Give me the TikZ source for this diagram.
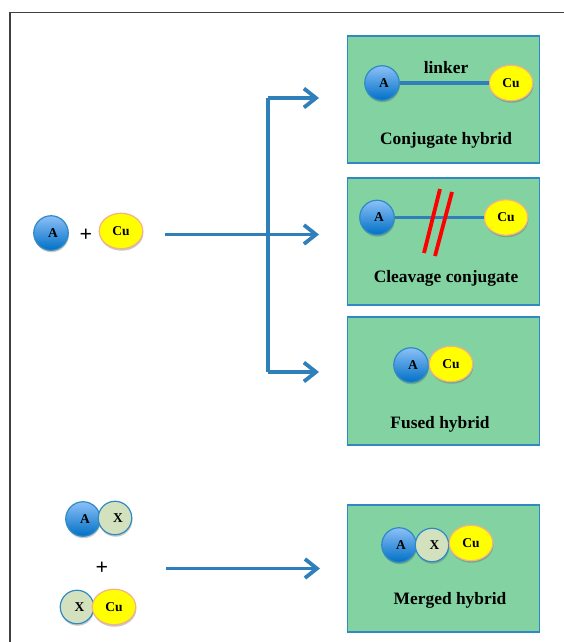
\documentclass[tikz,border=0pt]{standalone}
\usepackage{fontspec}
\setmainfont{Liberation Serif}
\usetikzlibrary{shapes.geometric,arrows.meta,shadows}
\definecolor{boxgreen}{HTML}{82D3A1}
\definecolor{flowblue}{HTML}{2E7FBA}
\definecolor{edgeblue}{HTML}{2F8AC4}
\definecolor{ballX}{HTML}{D3E1BE}
\definecolor{ballTop}{HTML}{8CC0F8}
\definecolor{ballBot}{HTML}{0070C6}
\definecolor{cuYellow}{HTML}{FFFF00}
\definecolor{cuEdge}{HTML}{F4B183}
\tikzset{
  panel/.style={draw=edgeblue,line width=1.6pt,fill=boxgreen,minimum width=192pt,inner sep=0pt},
  ballshadow/.style={drop shadow={shadow xshift=0.6pt,shadow yshift=-2pt,opacity=0.3,fill=black!70}},
  ballA/.style={circle,minimum size=34.5pt,inner sep=0pt,draw=edgeblue,line width=1.2pt,
    top color=ballTop,bottom color=ballBot,ballshadow,font=\fontsize{13.5}{13.5}\selectfont\bfseries},
  ballXn/.style={circle,minimum size=33.5pt,inner sep=0pt,draw=edgeblue,line width=1.2pt,
    fill=ballX,ballshadow,font=\fontsize{13.5}{13.5}\selectfont\bfseries},
  ballCu/.style={ellipse,minimum width=43.5pt,minimum height=35.5pt,inner sep=0pt,draw=cuEdge,line width=1.2pt,
    fill=cuYellow,ballshadow,font=\fontsize{13.5}{13.5}\selectfont\bfseries},
  caption/.style={font=\fontsize{17.4}{17.4}\selectfont\bfseries,inner sep=0pt},
  plus/.style={font=\fontsize{22}{22}\selectfont\bfseries,inner sep=0pt},
  flow/.style={draw=flowblue,line width=3.8pt,line join=round},
  flowarrow/.style={flow,-{Straight Barb[length=12pt,width=19pt,line width=3.8pt]}},
  linkerline/.style={draw=flowblue,line width=3.8pt},
  cutmark/.style={draw=red,line width=3.8pt},
}
\begin{document}
\begin{tikzpicture}[x=1pt,y=-1pt]
\useasboundingbox (0,0) rectangle (564,642);
\fill[white] (0,0) rectangle (564,642);
\draw[line width=1.8pt,draw=black!75] (10,642) -- (10,12.5) -- (564,12.5);

% panels
\node[panel,minimum height=127pt] (p1) at (443.5,99.5) {};
\node[panel,minimum height=127pt] (p2) at (443.5,241.5) {};
\node[panel,minimum height=128pt] (p3) at (443.5,381) {};
\node[panel,minimum height=127pt] (p4) at (443.5,568.5) {};

% conjugate hybrid
\node[ballA] (a1) at (382,83) {\hspace*{4pt}A};
\node[ballCu] (c1) at (511,83) {Cu};
\draw[linkerline] (a1) -- (c1);
\node[caption] (linker) at (446,68) {linker};
\node[caption] (t1) at (446,140) {Conjugate hybrid};

% cleavage conjugate
\node[ballA] (a2) at (377,217.5) {\hspace*{4pt}A};
\node[ballCu] (c2) at (506,217.5) {Cu};
\draw[linkerline] (a2) -- (c2);
\coordinate (r1a) at (440,189);
\coordinate (r1b) at (424,253);
\coordinate (r2a) at (452,192);
\coordinate (r2b) at (435,256);
\draw[cutmark] (r1a) -- (r1b);
\draw[cutmark] (r2a) -- (r2b);
\node[caption] (t2) at (446,278) {Cleavage conjugate};

% fused hybrid
\node[ballA] (a3) at (411,365) {\hspace*{4pt}A};
\node[ballCu] (c3) at (451,364) {Cu};
\node[caption] (t3) at (440,424) {Fused hybrid};

% merged hybrid
\node[ballA] (a4) at (399,545) {\hspace*{4pt}A};
\node[ballXn] (x4) at (432,545) {\hspace*{5pt}X};
\node[ballCu] (c4) at (471,543) {Cu};
\node[caption] (t4) at (450,600) {Merged hybrid};

% left reactants
\node[ballA] (a5) at (51,233) {\hspace*{4pt}A};
\node[plus] (p5) at (86,235) {+};
\node[ballCu] (c5) at (121,231) {Cu};

\node[ballA] (a6) at (83,519) {\hspace*{4pt}A};
\node[ballXn] (x6) at (115,518) {\hspace*{6pt}X};
\node[plus] (p6) at (102,568) {+};
\node[ballXn] (x7) at (77,607) {\hspace*{5pt}X};
\node[ballCu] (c7) at (114,607) {Cu};

% flow arrows
\coordinate (s1) at (165,234.5);
\coordinate (e2) at (319,234.5);
\coordinate (tee) at (268,98);
\coordinate (bee) at (268,372);
\coordinate (e1) at (319,98);
\coordinate (e3) at (319,372);
\coordinate (s2) at (166,568.5);
\coordinate (e4) at (320,568.5);
\draw[flowarrow] (s1) -- (e2);
\draw[flowarrow] (tee) -- (e1);
\draw[flow] (tee) -- (bee);
\draw[flowarrow] (bee) -- (e3);
\draw[flowarrow] (s2) -- (e4);
\end{tikzpicture}
\end{document}
